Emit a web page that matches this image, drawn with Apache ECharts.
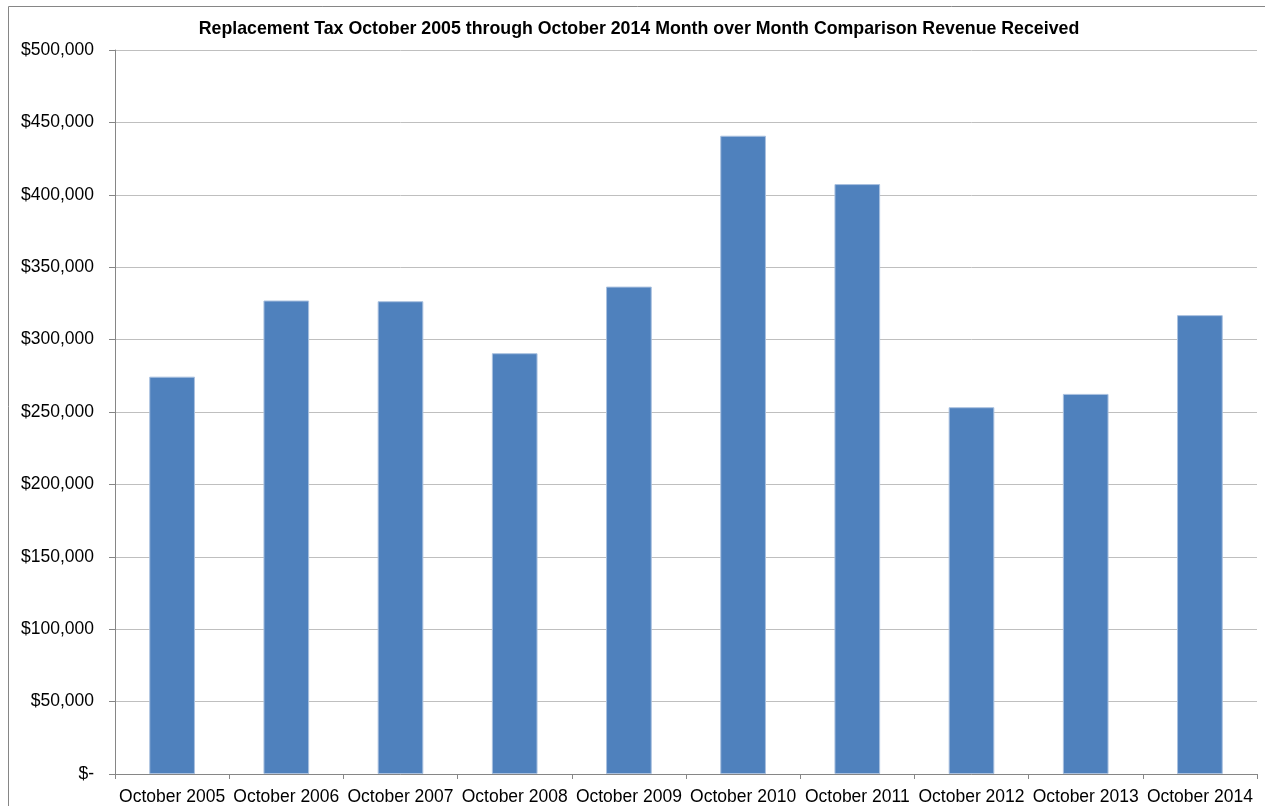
<!DOCTYPE html>
<html>
<head>
<meta charset="utf-8">
<script src="https://cdn.jsdelivr.net/npm/echarts@6/dist/echarts.min.js"></script>
<style>
  html, body { margin: 0; padding: 0; background: #fff; }
  #chart { width: 1265px; height: 806px; }
</style>
</head>
<body>
<div id="chart"></div>
<script>
// Replacement tax revenue received each October
const categories = ['October 2005', 'October 2006', 'October 2007', 'October 2008', 'October 2009',
                    'October 2010', 'October 2011', 'October 2012', 'October 2013', 'October 2014'];
const revenue = [274400, 327000, 326500, 290600, 336600, 440800, 407400, 253300, 262500, 316900];
const yTicks = [0, 50000, 100000, 150000, 200000, 250000, 300000, 350000, 400000, 450000, 500000];
const titleText = 'Replacement Tax October 2005 through October 2014 Month over Month Comparison Revenue Received';

const FONT = "'Liberation Sans', Arial, sans-serif";

function money(v) {
  if (v === 0) return '$-';
  return '$' + v.toLocaleString('en-US');
}

const chart = echarts.init(document.getElementById('chart'), null, { renderer: 'canvas' });
chart.setOption({
  backgroundColor: '#ffffff',
  animation: false,
  title: {
    text: titleText,
    left: 634,
    top: 15,
    textAlign: 'center',
    textStyle: { fontFamily: FONT, fontSize: 17.75, fontWeight: 'bold', color: '#000' }
  },
  graphic: [{
    type: 'rect',
    shape: { x: 8.5, y: 6.5, width: 1400, height: 1000 },
    style: { fill: 'none', stroke: '#868686', lineWidth: 1 },
    silent: true,
    z: -1
  }],
  grid: { left: 115, right: 8, top: 50, bottom: 32, containLabel: false },
  xAxis: {
    type: 'category',
    data: categories,
    boundaryGap: true,
    axisLine: { show: true, lineStyle: { color: '#868686', width: 1 } },
    axisTick: { show: true, length: 5, alignWithLabel: false, lineStyle: { color: '#868686' } },
    axisLabel: { fontFamily: FONT, fontSize: 17.5, color: '#000', margin: 14, interval: 0 },
    splitLine: { show: false }
  },
  yAxis: {
    type: 'value',
    min: yTicks[0],
    max: yTicks[yTicks.length - 1],
    interval: yTicks[1] - yTicks[0],
    axisLine: { show: true, lineStyle: { color: '#868686', width: 1 } },
    axisTick: { show: true, length: 6, lineStyle: { color: '#868686' } },
    axisLabel: { fontFamily: FONT, fontSize: 17.5, color: '#000', margin: 21, formatter: money },
    splitLine: { show: true, lineStyle: { color: '#bfbfbf', width: 1 } }
  },
  series: [{
    type: 'bar',
    data: revenue,
    barWidth: '40%',
    itemStyle: { color: '#4f81bd', borderColor: '#a9c0df', borderWidth: 1 }
  }]
});
</script>
</body>
</html>
